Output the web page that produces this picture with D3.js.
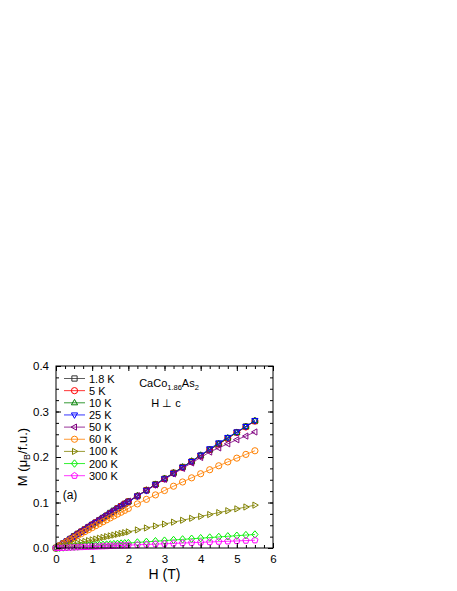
<!DOCTYPE html>
<html><head><meta charset="utf-8">
<script src="https://cdn.jsdelivr.net/npm/d3@7"></script>
<style>body{margin:0;background:#fff;} text{font-family:"Liberation Sans",Arial,sans-serif;}</style>
</head><body>
<svg id="c" width="457" height="591"></svg>
<script>
const fields = [0,0.1,0.2,0.3,0.4,0.5,0.6,0.7,0.8,0.9,1.0,1.1,1.2,1.3,1.4,1.5,1.6,1.7,1.8,1.9,2.0,
  2.25,2.5,2.75,3.0,3.25,3.5,3.75,4.0,4.25,4.5,4.75,5.0,5.25,5.5];
const seriesNames = ["1.8 K","5 K","10 K","25 K","50 K","60 K","100 K","200 K","300 K"];
const seriesColors = ["#333333","#ff0000","#008000","#0000ff","#800080","#ff8000","#808000","#00ee00","#ff00ff"];
const seriesSymbols = ["square","circle","triUp","triDown","triLeft","circle","triRight","diamond","pentagon"];
const m1p8K = [0,0.005,0.010,0.015,0.020,0.026,0.031,0.036,0.041,0.046,0.051,0.056,0.061,0.066,0.071,0.077,0.082,0.087,0.092,0.097,0.102,
  0.114,0.127,0.140,0.152,0.165,0.178,0.190,0.203,0.216,0.229,0.241,0.254,0.267,0.279];
const m5K = [0,0.005,0.010,0.015,0.020,0.025,0.031,0.036,0.041,0.046,0.051,0.056,0.061,0.066,0.071,0.076,0.081,0.087,0.092,0.097,0.102,
  0.114,0.127,0.139,0.152,0.165,0.177,0.190,0.203,0.216,0.228,0.241,0.254,0.266,0.279];
const m10K = [0,0.005,0.010,0.015,0.021,0.026,0.031,0.036,0.041,0.046,0.051,0.056,0.062,0.067,0.072,0.077,0.082,0.087,0.092,0.097,0.102,
  0.115,0.127,0.140,0.153,0.165,0.178,0.191,0.204,0.216,0.229,0.242,0.254,0.267,0.280];
const m25K = [0,0.005,0.010,0.015,0.020,0.025,0.030,0.035,0.040,0.046,0.051,0.056,0.061,0.066,0.071,0.076,0.081,0.086,0.091,0.096,0.101,
  0.114,0.126,0.139,0.152,0.164,0.177,0.190,0.204,0.218,0.231,0.243,0.255,0.267,0.280];
const m50K = [0,0.005,0.011,0.016,0.021,0.027,0.032,0.037,0.042,0.048,0.053,0.058,0.063,0.068,0.073,0.078,0.083,0.088,0.093,0.098,0.103,
  0.115,0.127,0.139,0.151,0.163,0.175,0.187,0.199,0.211,0.220,0.229,0.238,0.246,0.255];
const m60K = [0,0.0046,0.0092,0.0137,0.0182,0.0227,0.0271,0.0316,0.0360,0.0403,0.0447,0.0490,0.0533,0.0576,0.0619,0.0661,0.0703,0.0745,0.0786,0.0827,0.0868,
  0.0969,0.1069,0.1167,0.1263,0.1358,0.1451,0.1542,0.1632,0.1720,0.1807,0.1892,0.1975,0.2057,0.2137];
const m100K = [0,0.0018,0.0036,0.0054,0.0072,0.0090,0.0107,0.0125,0.0143,0.0161,0.0178,0.0196,0.0214,0.0231,0.0249,0.0266,0.0284,0.0301,0.0319,0.0336,0.0354,
  0.0397,0.0440,0.0483,0.0526,0.0568,0.0610,0.0653,0.0694,0.0736,0.0778,0.0819,0.0860,0.0901,0.0942];
const m200K = [0,0.0005,0.0011,0.0016,0.0022,0.0027,0.0032,0.0038,0.0043,0.0049,0.0054,0.0059,0.0065,0.0070,0.0076,0.0081,0.0086,0.0092,0.0097,0.0103,0.0108,
  0.0122,0.0135,0.0149,0.0162,0.0176,0.0189,0.0203,0.0216,0.0230,0.0243,0.0257,0.0270,0.0284,0.0297];
const m300K = [0,0.0003,0.0006,0.0009,0.0012,0.0016,0.0019,0.0022,0.0025,0.0028,0.0031,0.0034,0.0037,0.0040,0.0043,0.0047,0.0050,0.0053,0.0056,0.0059,0.0062,
  0.0070,0.0078,0.0085,0.0093,0.0101,0.0109,0.0116,0.0124,0.0132,0.0140,0.0147,0.0155,0.0163,0.0171];
const seriesValues = [m1p8K,m5K,m10K,m25K,m50K,m60K,m100K,m200K,m300K];
const xTicks = [0,1,2,3,4,5,6];
const yTicks = [0.0,0.1,0.2,0.3,0.4];

const L=56, R=273, T=366, B=548;
const x = d3.scaleLinear().domain([0,6]).range([L,R]);
const y = d3.scaleLinear().domain([0,0.4]).range([B,T]);
const svg = d3.select("#c");

function symPath(type, r){
  switch(type){
    case "square": return `M${-r*0.85},${-r*0.85}h${1.7*r}v${1.7*r}h${-1.7*r}Z`;
    case "circle": return `M${r},0A${r},${r} 0 1,1 ${-r},0A${r},${r} 0 1,1 ${r},0Z`;
    case "triUp": return `M0,${-r*1.1}L${r*1.0},${r*0.65}L${-r*1.0},${r*0.65}Z`;
    case "triDown": return `M0,${r*1.1}L${r*1.0},${-r*0.65}L${-r*1.0},${-r*0.65}Z`;
    case "triLeft": return `M${-r*1.1},0L${r*0.65},${-r*1.0}L${r*0.65},${r*1.0}Z`;
    case "triRight": return `M${r*1.1},0L${-r*0.65},${-r*1.0}L${-r*0.65},${r*1.0}Z`;
    case "diamond": return `M0,${-r*1.2}L${r*1.0},0L0,${r*1.2}L${-r*1.0},0Z`;
    case "pentagon": {
      const pts=[]; for(let i=0;i<5;i++){const a=-Math.PI/2+i*2*Math.PI/5; pts.push([r*1.05*Math.cos(a), r*1.05*Math.sin(a)]);}
      return "M"+pts.map(p=>p[0].toFixed(2)+","+p[1].toFixed(2)).join("L")+"Z";
    }
  }
}

svg.append("clipPath").attr("id","clip").append("rect").attr("x",L-4).attr("y",T).attr("width",R-L+8).attr("height",B-T+4);
const plot = svg.append("g").attr("clip-path","url(#clip)");
const line = d3.line().x(d=>x(d[0])).y(d=>y(d[1]));
seriesValues.forEach((vals,i)=>{
  const pts = fields.map((h,j)=>[h,vals[j]]);
  const g = plot.append("g");
  g.append("path").attr("d",line(pts)).attr("fill","none").attr("stroke",seriesColors[i]).attr("stroke-width",0.8);
  g.selectAll("path.s").data(pts).enter().append("path").attr("class","s")
    .attr("transform",d=>`translate(${x(d[0])},${y(d[1])})`)
    .attr("d",symPath(seriesSymbols[i],3.1)).attr("fill","none").attr("stroke",seriesColors[i]).attr("stroke-width",1);
});

function axisSet(axisFn, scale, major, minorStep, transform, labels, pad){
  const minor = d3.range(scale.domain()[0], scale.domain()[1]+1e-9, minorStep);
  const gMinor = svg.append("g").attr("transform",transform)
    .call(axisFn(scale).tickValues(minor).tickSize(-3).tickFormat(""));
  gMinor.select(".domain").remove();
  const g = svg.append("g").attr("transform",transform)
    .call(axisFn(scale).tickValues(major).tickSize(-5).tickPadding(labels?pad:0)
      .tickFormat(labels?labels:""));
  g.select(".domain").remove();
  g.selectAll("text").attr("font-size",11.5).attr("fill","#000");
  svg.selectAll(".tick line").attr("stroke","#000");
}
axisSet(d3.axisBottom, x, xTicks, 0.25, `translate(0,${B})`, d=>d3.format("d")(d), 7);
axisSet(d3.axisTop, x, xTicks, 0.25, `translate(0,${T})`, null, 0);
axisSet(d3.axisLeft, y, yTicks, 0.025, `translate(${L},0)`, d=>d3.format(".1f")(d), 7);
axisSet(d3.axisRight, y, yTicks, 0.025, `translate(${R},0)`, null, 0);
svg.append("rect").attr("x",L).attr("y",T).attr("width",R-L).attr("height",B-T)
  .attr("fill","none").attr("stroke","#000").attr("stroke-width",1);

svg.append("text").attr("x",(L+R)/2).attr("y",579).attr("text-anchor","middle").attr("font-size",14).text("H (T)");
const yl = svg.append("text").attr("transform",`translate(27,${(T+B)/2}) rotate(-90)`).attr("text-anchor","middle").attr("font-size",13);
yl.append("tspan").text("M (μ");
yl.append("tspan").attr("font-size",9).attr("dy",3).text("B");
yl.append("tspan").attr("dy",-3).text("/f.u.)");

seriesNames.forEach((n,i)=>{
  const yy = 378.5 + i*12.15;
  svg.append("line").attr("x1",64).attr("x2",85).attr("y1",yy).attr("y2",yy).attr("stroke",seriesColors[i]).attr("stroke-width",0.8);
  svg.append("path").attr("transform",`translate(74.5,${yy})`).attr("d",symPath(seriesSymbols[i],3.1))
    .attr("fill","none").attr("stroke",seriesColors[i]).attr("stroke-width",1);
  svg.append("text").attr("x",89).attr("y",yy+4).attr("font-size",11).text(n);
});

const t1 = svg.append("text").attr("x",169).attr("y",387).attr("text-anchor","middle").attr("font-size",11);
t1.append("tspan").text("CaCo");
t1.append("tspan").attr("font-size",7.5).attr("dy",3).text("1.86");
t1.append("tspan").attr("dy",-3).text("As");
t1.append("tspan").attr("font-size",7.5).attr("dy",3).text("2");
svg.append("text").attr("x",166).attr("y",407).attr("text-anchor","middle").attr("font-size",11).text("H ⊥ c");
svg.append("text").attr("x",70).attr("y",499).attr("text-anchor","middle").attr("font-size",12).text("(a)");
</script>
</body></html>
